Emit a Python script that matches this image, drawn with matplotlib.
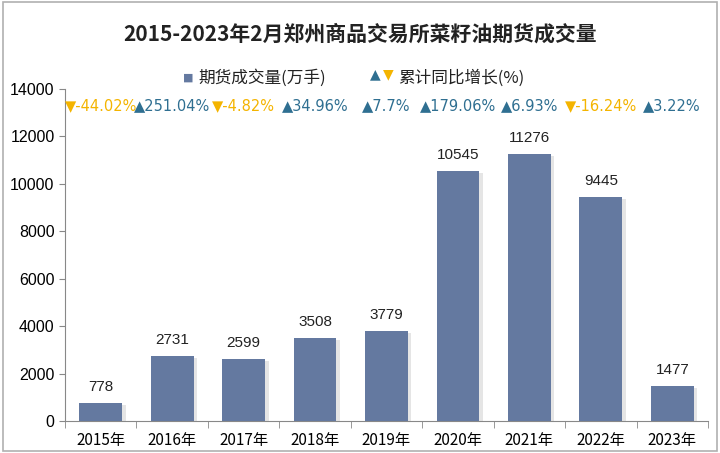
import matplotlib
matplotlib.use("Agg")
import matplotlib.pyplot as plt
import matplotlib.patheffects as pe
from matplotlib.patches import Rectangle

plt.rcParams['font.family'] = ['Noto Sans CJK SC', 'DejaVu Sans']

years = ['2015年', '2016年', '2017年', '2018年', '2019年', '2020年', '2021年', '2022年', '2023年']
volumes = [778, 2731, 2599, 3508, 3779, 10545, 11276, 9445, 1477]
growth = [-44.02, 251.04, -4.82, 34.96, 7.7, 179.06, 6.93, -16.24, 3.22]
growth_labels = ['-44.02%', '251.04%', '-4.82%', '34.96%', '7.7%', '179.06%', '6.93%', '-16.24%', '3.22%']

bar_color = '#6479a0'
up_color = '#2f6f91'
down_color = '#f4b400'
num_font = ['Liberation Sans', 'DejaVu Sans']

fig = plt.figure(figsize=(7.2, 4.53), dpi=100)
fig.patches.append(Rectangle((0.004, 0.004), 0.992, 0.992, transform=fig.transFigure,
                             fill=False, edgecolor='#b0b0b0', linewidth=1.2))
ax = fig.add_axes([0.0903, 0.0706, 0.893, 0.733])

x = list(range(len(years)))
bars = ax.bar(x, volumes, width=0.6, color=bar_color, zorder=3,
              path_effects=[pe.SimplePatchShadow(offset=(2.5, -1.5), shadow_rgbFace='#aaaaaa', alpha=0.3), pe.Normal()])
for xi, v in zip(x, volumes):
    ax.text(xi, v + 380, str(v), ha='center', va='bottom', fontsize=11, color='#222222', family=num_font)

for xi, g, lab in zip(x, growth, growth_labels):
    if g >= 0:
        ax.text(xi, 13300, '▲' + lab, ha='center', va='center', fontsize=10.5, color=up_color,
                family=['DejaVu Sans'])
    else:
        ax.text(xi, 13300, '▼' + lab, ha='center', va='center', fontsize=10.5, color=down_color,
                family=['DejaVu Sans'])

ax.set_xlim(-0.5, len(years) - 0.5)
ax.set_ylim(0, 14000)
ax.set_yticks(range(0, 14001, 2000))
ax.set_yticklabels([str(v) for v in range(0, 14001, 2000)], family=num_font, fontsize=11.5)
ax.set_xticks(x)
ax.set_xticklabels(years, fontsize=11)
ax.tick_params(axis='x', length=0, pad=8)
ax.set_xticks([i + 0.5 for i in range(-1, len(years))], minor=True)
ax.tick_params(axis='x', which='minor', length=5, color='#888888')
ax.tick_params(axis='y', length=4, color='#888888')
for s in ['top', 'right']:
    ax.spines[s].set_visible(False)
for s in ['left', 'bottom']:
    ax.spines[s].set_color('#888888')

fig.text(0.5, 0.925, '2015-2023年2月郑州商品交易所菜籽油期货成交量', ha='center', va='center',
         fontsize=15, fontweight='bold', color='#222222')

# legend
fig.text(0.262, 0.828, '■', ha='center', va='center', fontsize=8, color=bar_color, family=['DejaVu Sans'])
fig.text(0.276, 0.828, '期货成交量(万手)', ha='left', va='center', fontsize=12, color='#222222')
fig.text(0.521, 0.836, '▲', ha='center', va='center', fontsize=10, color=up_color, family=['DejaVu Sans'])
fig.text(0.539, 0.836, '▼', ha='center', va='center', fontsize=10, color=down_color, family=['DejaVu Sans'])
fig.text(0.553, 0.828, '累计同比增长(%)', ha='left', va='center', fontsize=12, color='#222222')

fig.savefig('out.png', dpi=100)
